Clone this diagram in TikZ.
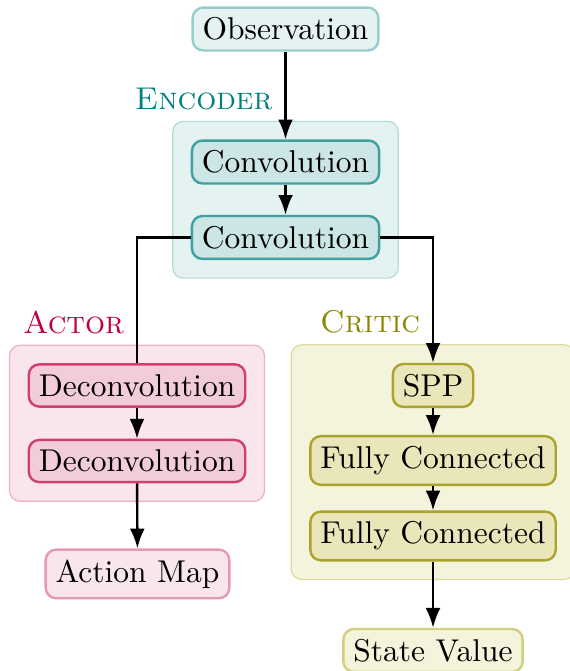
\documentclass[tikz,border=0pt]{standalone}
\usepackage{tikz}
\usetikzlibrary{arrows.meta,positioning,fit,backgrounds}

\tikzset{
  every node/.style={font=\fontsize{10.5}{12.6}\selectfont},
  layer/.style={draw=#1!75, fill=#1!20, rounded corners=3.5pt, thick},
  io/.style={draw=#1!40, fill=#1!10, rounded corners=3.5pt, thick},
  group/.style={draw=#1!30, fill=#1!10, rounded corners=3.5pt, inner sep=6pt},
  grouplabel/.style={anchor=south east, text=#1, font=\fontsize{10.5}{12.6}\selectfont\scshape},
  flow/.style={thick, -{Latex}},
}

\begin{document}
\begin{tikzpicture}
\useasboundingbox[clip] (0,0) rectangle (6.666,-7.861);

% input and encoder
\node[io=teal] (obs) at (3.345,-0.340) {Observation};
\node[layer=teal] (conv1) at (3.345,-1.898) {Convolution};
\node[layer=teal] (conv2) at (3.345,-2.782) {Convolution};

% actor head
\node[layer=purple] (deconv1) at (1.605,-4.516) {Deconvolution};
\node[layer=purple] (deconv2) at (1.605,-5.401) {Deconvolution};
\node[io=purple] (actmap) at (1.611,-6.724) {Action Map};

% critic head
\node[layer=olive] (spp) at (5.073,-4.516) {SPP};
\node[layer=olive] (fc1) at (5.073,-5.395) {Fully Connected};
\node[layer=olive] (fc2) at (5.073,-6.279) {Fully Connected};
\node[io=olive] (value) at (5.073,-7.620) {State Value};

\begin{scope}[on background layer]
\node[group=teal, fit=(conv1) (conv2)] (enc) {};
\node[group=purple, fit=(deconv1) (deconv2)] (actor) {};
\node[group=olive, fit=(spp) (fc1) (fc2)] (critic) {};
\end{scope}

\node[grouplabel=teal, xshift=-0.8pt] at (obs.south |- enc.north) {Encoder};
\node[grouplabel=purple, xshift=-0.8pt] at (deconv1.north |- actor.north) {Actor};
\node[grouplabel=olive, xshift=-0.8pt] at (spp.north |- critic.north) {Critic};

\draw[flow] (obs) -- (conv1);
\draw[flow] (conv1) -- (conv2);
\draw[thick] (conv2.west) -| (deconv1.north);
\draw[flow] (conv2.east) -| (spp.north);
\draw[flow] (deconv1) -- (deconv2);
\draw[flow] (deconv2) -- (actmap);
\draw[flow] (spp) -- (fc1);
\draw[flow] (fc1) -- (fc2);
\draw[flow] (fc2) -- (value);
\end{tikzpicture}
\end{document}
